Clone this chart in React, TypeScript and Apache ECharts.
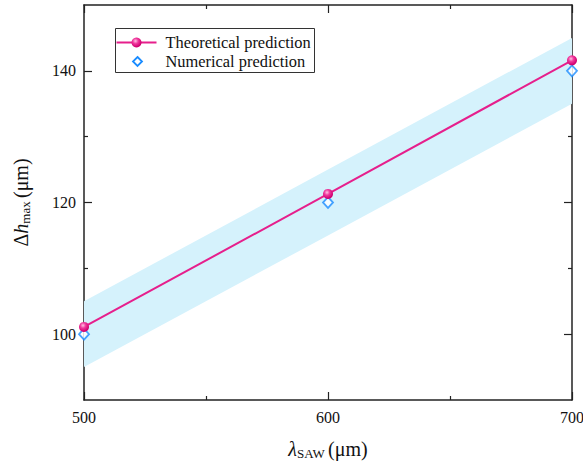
import React, { useEffect, useRef } from "react";
import * as echarts from "echarts";

const xValues = [500, 600, 700];
const theoretical = [101.1, 121.3, 141.6];
const numerical = [100, 120, 140];
const bandLower = [95, 115, 135];
const bandUpper = [105, 125, 145];
const xLabelValues = [500, 600, 700];
const yLabelValues = [100, 120, 140];
const yMinorValues = [110, 130];
const legendNames = ["Theoretical prediction", "Numerical prediction"];

const FONT = "Liberation Serif";
const LINE_COLOR = "#e61f8c";
const DIAMOND_COLOR = "#1a8cff";
const BAND_COLOR = "#d5f2fc";

export default function App() {
  const ref = useRef<HTMLDivElement>(null);
  useEffect(() => {
    if (!ref.current) return;
    const chart = echarts.init(ref.current, undefined, { renderer: "svg" });
    const axisLine = { show: true, lineStyle: { color: "#222", width: 1.5 } };
    const makeGradient = () =>
      new echarts.graphic.RadialGradient(0.4, 0.35, 0.6, [
        { offset: 0, color: "#ffc2e2" },
        { offset: 0.45, color: "#f0399e" },
        { offset: 1, color: "#d0006f" },
      ]);
    const tickStyle = { color: "#222", width: 1.2 };
    chart.setOption({
      animation: false,
      backgroundColor: "#fff",
      grid: { left: 84, right: 11, top: 5, bottom: 63, containLabel: false, outerBoundsMode: "none" },
      graphic: [
        {
          type: "group",
          left: 114,
          top: 28,
          z: 100,
          children: [
            {
              type: "rect",
              shape: { x: 0, y: 0, width: 199, height: 44 },
              style: { fill: "#fff", stroke: "#333", lineWidth: 1 },
            },
            {
              type: "line",
              shape: { x1: 1, y1: 14, x2: 41, y2: 14 },
              style: { stroke: LINE_COLOR, lineWidth: 2 },
            },
            {
              type: "circle",
              shape: { cx: 21, cy: 14, r: 5 },
              style: { fill: makeGradient() },
            },
            {
              type: "polygon",
              shape: { points: [[22, 28.5], [26.5, 33], [22, 37.5], [17.5, 33]] },
              style: { fill: "#fff", stroke: DIAMOND_COLOR, lineWidth: 1.8 },
            },
            {
              type: "text",
              x: 50,
              y: 14,
              style: {
                text: legendNames[0],
                fontFamily: FONT,
                fontSize: 16.4,
                fill: "#111",
                verticalAlign: "middle",
              },
            },
            {
              type: "text",
              x: 50,
              y: 33,
              style: {
                text: legendNames[1],
                fontFamily: FONT,
                fontSize: 16.4,
                fill: "#111",
                verticalAlign: "middle",
              },
            },
          ],
        },
      ],
      xAxis: [
        {
          type: "value",
          min: 500,
          max: 700,
          interval: 100,
          position: "bottom",
          axisLine,
          splitLine: { show: false },
          axisTick: { show: true, inside: true, length: 8, lineStyle: tickStyle },
          minorTick: { show: true, splitNumber: 2, length: 4, lineStyle: tickStyle },
          axisLabel: {
            customValues: xLabelValues,
            fontFamily: FONT,
            fontSize: 16,
            color: "#111",
            margin: 9,
          },
          name: "{l|λ}{s|SAW} {n|(μm)}",
          nameLocation: "middle",
          nameGap: 38,
          nameTextStyle: {
            rich: {
              l: { fontFamily: FONT, fontSize: 20, fontStyle: "italic", color: "#111" },
              s: { fontFamily: FONT, fontSize: 13, color: "#111", verticalAlign: "bottom", padding: [9, 0, 0, 0] },
              n: { fontFamily: FONT, fontSize: 20, color: "#111" },
            },
          },
        },
        {
          type: "value",
          min: 500,
          max: 700,
          interval: 100,
          position: "top",
          axisLine,
          splitLine: { show: false },
          axisTick: { show: true, inside: true, length: 8, lineStyle: tickStyle },
          minorTick: { show: true, splitNumber: 2, length: 4, lineStyle: tickStyle },
          axisLabel: { show: false },
        },
      ],
      yAxis: [
        {
          type: "value",
          min: 90,
          max: 150,
          position: "left",
          axisLine,
          splitLine: { show: false },
          axisTick: { show: true, inside: true, length: 8, customValues: yLabelValues, lineStyle: tickStyle },
          axisLabel: {
            customValues: yLabelValues,
            fontFamily: FONT,
            fontSize: 16,
            color: "#111",
            margin: 8,
          },
          name: "{d|Δ}{h|h}{s|max} {n|(μm)}",
          nameLocation: "middle",
          nameGap: 52,
          nameRotate: 90,
          nameTextStyle: {
            rich: {
              d: { fontFamily: FONT, fontSize: 20, color: "#111" },
              h: { fontFamily: FONT, fontSize: 20, fontStyle: "italic", color: "#111" },
              s: { fontFamily: FONT, fontSize: 13, color: "#111", verticalAlign: "bottom", padding: [9, 0, 0, 0] },
              n: { fontFamily: FONT, fontSize: 20, color: "#111" },
            },
          },
        },
        {
          type: "value",
          min: 90,
          max: 150,
          position: "left",
          axisLine: { show: false },
          splitLine: { show: false },
          axisTick: { show: true, inside: true, length: 4, customValues: yMinorValues, lineStyle: tickStyle },
          axisLabel: { show: false },
        },
        {
          type: "value",
          min: 90,
          max: 150,
          position: "right",
          axisLine,
          splitLine: { show: false },
          axisTick: { show: true, inside: true, length: 8, customValues: yLabelValues, lineStyle: tickStyle },
          axisLabel: { show: false },
        },
        {
          type: "value",
          min: 90,
          max: 150,
          position: "right",
          axisLine: { show: false },
          splitLine: { show: false },
          axisTick: { show: true, inside: true, length: 4, customValues: yMinorValues, lineStyle: tickStyle },
          axisLabel: { show: false },
        },
      ],
      series: [
        {
          name: "band",
          type: "custom",
          silent: true,
          z: 1,
          data: [[xValues[0], bandLower[0]]],
          renderItem: (params: any, api: any) => {
            const upper = xValues.map((x, i) => api.coord([x, bandUpper[i]]));
            const lower = xValues.map((x, i) => api.coord([x, bandLower[i]])).reverse();
            return {
              type: "polygon",
              shape: { points: upper.concat(lower) },
              style: { fill: BAND_COLOR },
            };
          },
        },
        {
          name: legendNames[0],
          type: "line",
          data: xValues.map((x, i) => [x, theoretical[i]]),
          lineStyle: { color: LINE_COLOR, width: 2 },
          itemStyle: { color: makeGradient(), borderWidth: 0 },
          symbol: "circle",
          symbolSize: 10,
          z: 5,
        },
        {
          name: legendNames[1],
          type: "scatter",
          data: xValues.map((x, i) => [x, numerical[i]]),
          symbol: "diamond",
          symbolSize: [10, 11],
          itemStyle: { color: "#fff", borderColor: DIAMOND_COLOR, borderWidth: 1.8 },
          z: 4,
        },
      ],
    });
    return () => chart.dispose();
  }, []);
  return <div ref={ref} style={{ width: 583, height: 463, position: "absolute", left: 0, top: 0 }} />;
}
